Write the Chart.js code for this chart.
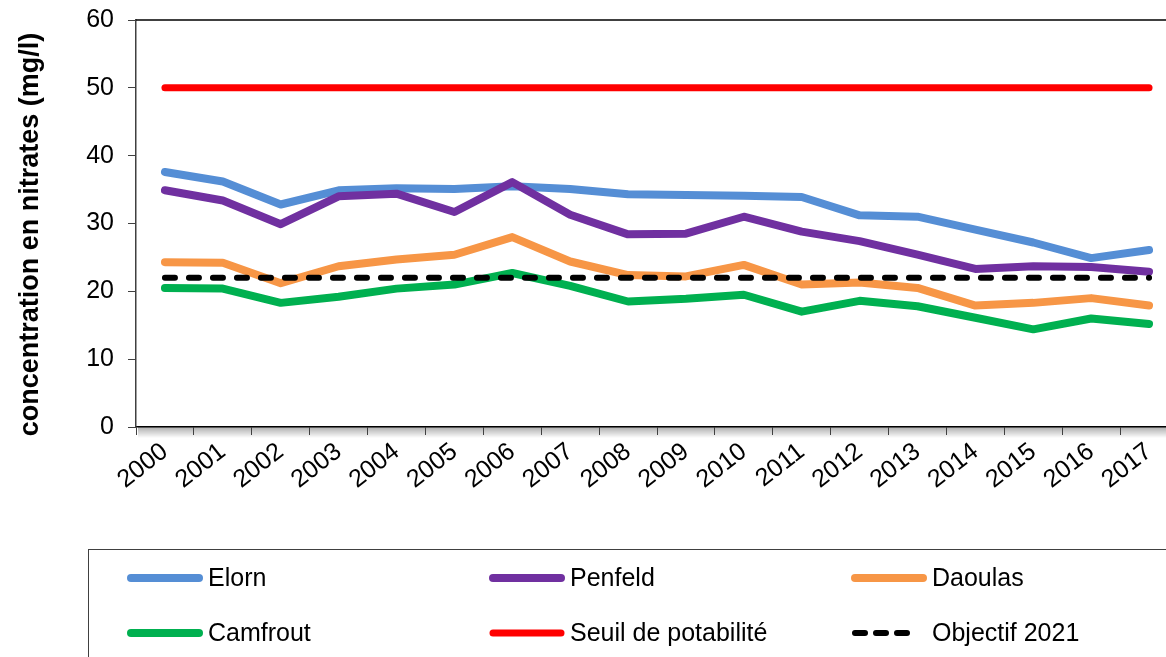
<!DOCTYPE html>
<html lang="fr">
<head>
<meta charset="utf-8">
<title>Concentration en nitrates</title>
<script src="https://cdn.jsdelivr.net/npm/chart.js@4/dist/chart.umd.min.js"></script>
<style>
  html, body { margin: 0; padding: 0; background: #fff; overflow: hidden; }
  #wrap { width: 1200px; height: 700px; }
</style>
</head>
<body>
<div id="wrap"><canvas id="c" width="1200" height="700"></canvas></div>
<script>
// Années de mesure
const years = ['2000','2001','2002','2003','2004','2005','2006','2007','2008',
               '2009','2010','2011','2012','2013','2014','2015','2016','2017'];

// Concentrations moyennes en nitrates (mg/l) par rivière
const elorn    = [37.6, 36.2, 32.8, 34.9, 35.2, 35.1, 35.5, 35.1, 34.3, 34.2, 34.1, 33.9, 31.2, 31.0, 29.1, 27.2, 24.9, 26.1];
const penfeld  = [34.9, 33.4, 29.9, 34.0, 34.4, 31.7, 36.1, 31.3, 28.4, 28.5, 31.0, 28.8, 27.4, 25.4, 23.3, 23.7, 23.6, 22.9];
const daoulas  = [24.3, 24.2, 21.2, 23.7, 24.7, 25.4, 28.0, 24.4, 22.4, 22.2, 23.9, 21.0, 21.3, 20.5, 17.9, 18.3, 19.0, 17.9];
const camfrout = [20.5, 20.4, 18.3, 19.2, 20.4, 21.0, 22.7, 20.8, 18.5, 18.9, 19.5, 17.0, 18.6, 17.8, 16.1, 14.4, 16.0, 15.2];

// Seuils de référence
const seuilPotabilite = years.map(() => 50);
const objectif2021    = years.map(() => 22);

// Graduations de l'axe vertical
const yTicks = [0, 10, 20, 30, 40, 50, 60];
const yTitle = 'concentration en nitrates (mg/l)';

const FONT = "Arial, 'Liberation Sans', sans-serif";
const DASH = [10, 14];

function serie(label, data, color, width, order, dash) {
  return {
    label, data,
    borderColor: color,
    backgroundColor: color,
    borderWidth: width,
    borderCapStyle: 'round',
    borderJoinStyle: 'round',
    borderDash: dash || [],
    pointRadius: 0,
    pointHoverRadius: 0,
    tension: 0,
    fill: false,
    order
  };
}

// Ombre sous l'axe horizontal
const axisShadow = {
  id: 'axisShadow',
  beforeDraw(chart) {
    const { ctx, chartArea: a } = chart;
    const g = ctx.createLinearGradient(0, a.bottom, 0, a.bottom + 11);
    g.addColorStop(0, 'rgba(0,0,0,0.32)');
    g.addColorStop(1, 'rgba(0,0,0,0)');
    ctx.save();
    ctx.fillStyle = g;
    ctx.fillRect(a.left + 2, a.bottom, a.right - a.left, 11);
    ctx.restore();
  }
};

// Bordure supérieure de la zone de tracé et titre de l'axe vertical
const frameAndTitle = {
  id: 'frameAndTitle',
  afterDraw(chart) {
    const { ctx, chartArea: a } = chart;
    ctx.save();
    ctx.strokeStyle = '#000';
    ctx.lineWidth = 1.5;
    ctx.beginPath();
    ctx.moveTo(a.left, a.top);
    ctx.lineTo(a.right, a.top);
    ctx.stroke();

    ctx.translate(31, a.bottom - (a.bottom - a.top) / 2 + 11);
    ctx.rotate(-Math.PI / 2);
    ctx.font = 'bold 27px ' + FONT;
    ctx.fillStyle = '#000';
    ctx.textAlign = 'center';
    ctx.textBaseline = 'middle';
    ctx.fillText(yTitle, 0, 0);
    ctx.restore();
  }
};

// Légende encadrée en deux lignes de trois colonnes
const boxLegend = {
  id: 'boxLegend',
  afterDraw(chart) {
    const { ctx } = chart;
    const ds = chart.data.datasets;
    const cols = [131, 493, 855];
    const rows = [578, 633];
    ctx.save();
    ctx.strokeStyle = '#404040';
    ctx.lineWidth = 1;
    ctx.strokeRect(88.5, 549.5, 1400, 300);
    ctx.font = '25px ' + FONT;
    ctx.textBaseline = 'middle';
    ctx.textAlign = 'left';
    ds.forEach((d, i) => {
      const x = cols[i % 3];
      const y = rows[Math.floor(i / 3)];
      ctx.strokeStyle = d.borderColor;
      ctx.lineWidth = d.borderWidth;
      ctx.lineCap = 'round';
      ctx.setLineDash(d.borderDash.length ? [10, 11] : []);
      ctx.beginPath();
      if (d.borderDash.length) {
        ctx.moveTo(x, y);
        ctx.lineTo(x + 62, y);
      } else {
        ctx.moveTo(x, y);
        ctx.lineTo(x + 68, y);
      }
      ctx.stroke();
      ctx.setLineDash([]);
      ctx.fillStyle = '#000';
      ctx.fillText(d.label, x + 77, y + 1);
    });
    ctx.restore();
  }
};

new Chart(document.getElementById('c'), {
  type: 'line',
  data: {
    labels: years,
    datasets: [
      serie('Elorn', elorn, '#558ED5', 8, 5),
      serie('Penfeld', penfeld, '#7030A0', 8, 4),
      serie('Daoulas', daoulas, '#F79646', 8, 3),
      serie('Camfrout', camfrout, '#00B050', 8, 2),
      serie('Seuil de potabilité', seuilPotabilite, '#FF0000', 7, 1),
      serie('Objectif 2021', objectif2021, '#000000', 6, 0, DASH)
    ]
  },
  options: {
    responsive: false,
    animation: false,
    events: [],
    layout: { padding: { left: 0, top: 20, right: 22, bottom: 0 } },
    plugins: {
      legend: { display: false },
      tooltip: { enabled: false },
      title: { display: false }
    },
    scales: {
      x: {
        type: 'category',
        offset: true,
        grid: {
          offset: true,
          drawOnChartArea: false,
          drawTicks: true,
          tickLength: 8,
          tickWidth: 1,
          tickColor: '#404040'
        },
        border: { display: true, color: '#000', width: 1.5 },
        ticks: {
          color: '#000',
          font: { family: FONT, size: 25 },
          minRotation: 38,
          maxRotation: 38,
          autoSkip: false,
          padding: 2
        },
        afterFit(scale) { scale.height = 273; }
      },
      y: {
        min: 0,
        max: 60,
        afterBuildTicks(scale) { scale.ticks = yTicks.map(v => ({ value: v })); },
        grid: {
          drawOnChartArea: false,
          drawTicks: true,
          tickLength: 8,
          tickColor: '#404040'
        },
        border: { display: true, color: '#404040', width: 1.5 },
        ticks: {
          color: '#000',
          font: { family: FONT, size: 25 },
          padding: 14
        },
        afterFit(scale) {
          scale.width = 136;
          scale.paddingTop = 0;
          scale.paddingBottom = 0;
        }
      }
    }
  },
  plugins: [axisShadow, frameAndTitle, boxLegend]
});
</script>
</body>
</html>
